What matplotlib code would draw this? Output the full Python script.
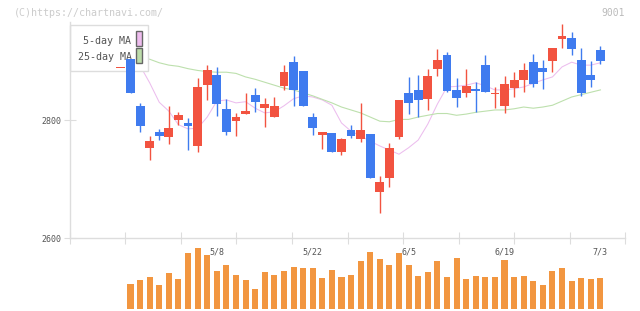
import matplotlib
matplotlib.use('Agg')
import matplotlib.pyplot as plt
import matplotlib.transforms as mtransforms
from matplotlib.patches import Rectangle
import numpy as np

# trading days (2024), first one only shows as a doji under the legend
dates = ['4/19', '4/22', '4/23', '4/24', '4/25', '4/26', '4/30', '5/1', '5/2', '5/7',
         '5/8', '5/9', '5/10', '5/13', '5/14', '5/15', '5/16', '5/17', '5/20', '5/21',
         '5/22', '5/23', '5/24', '5/27', '5/28', '5/29', '5/30', '5/31', '6/3', '6/4',
         '6/5', '6/6', '6/7', '6/10', '6/11', '6/12', '6/13', '6/14', '6/17', '6/18',
         '6/19', '6/20', '6/21', '6/24', '6/25', '6/26', '6/27', '6/28', '7/1', '7/2',
         '7/3']

opens = [2888, 2903, 2824, 2753, 2780, 2772, 2800, 2795, 2756, 2859, 2876,
         2819, 2799, 2811, 2842, 2820, 2805, 2858, 2898, 2883, 2805,
         2775, 2778, 2745, 2783, 2768, 2776, 2678, 2702, 2772, 2846,
         2851, 2836, 2887, 2910, 2851, 2846, 2852, 2893, 2844, 2824,
         2854, 2867, 2898, 2888, 2900, 2937, 2939, 2902, 2876, 2919]
highs = [2888, 2903, 2828, 2773, 2785, 2824, 2814, 2803, 2871, 2893, 2889,
         2836, 2812, 2846, 2854, 2837, 2839, 2893, 2908, 2883, 2812,
         2780, 2778, 2770, 2792, 2829, 2776, 2705, 2761, 2834, 2873,
         2876, 2886, 2920, 2915, 2871, 2886, 2864, 2910, 2856, 2875,
         2881, 2897, 2912, 2902, 2922, 2963, 2949, 2922, 2900, 2925]
lows = [2888, 2846, 2779, 2732, 2766, 2760, 2791, 2749, 2745, 2834, 2807,
        2775, 2773, 2811, 2814, 2788, 2805, 2851, 2824, 2824, 2775,
        2751, 2745, 2740, 2770, 2762, 2701, 2643, 2687, 2767, 2811,
        2805, 2817, 2875, 2848, 2822, 2839, 2814, 2848, 2820, 2812,
        2839, 2848, 2856, 2853, 2881, 2922, 2910, 2841, 2856, 2895]
closes = [2888, 2846, 2789, 2764, 2773, 2786, 2809, 2790, 2856, 2885, 2827,
          2779, 2805, 2815, 2831, 2827, 2824, 2881, 2851, 2824, 2787,
          2780, 2745, 2768, 2773, 2783, 2701, 2695, 2753, 2834, 2829,
          2834, 2875, 2902, 2849, 2837, 2858, 2849, 2848, 2846, 2861,
          2868, 2885, 2861, 2881, 2922, 2942, 2920, 2846, 2868, 2900]

ma5 = [np.nan, 2910, 2892, 2863, 2830, 2815, 2792, 2785, 2786, 2805, 2832,
       2834, 2829, 2831, 2820, 2812, 2814, 2824, 2836, 2841, 2839,
       2834, 2825, 2795, 2781, 2773, 2764, 2756, 2749, 2742, 2753,
       2766, 2793, 2827, 2856, 2857, 2859, 2863, 2858, 2851, 2851,
       2853, 2856, 2862, 2868, 2873, 2890, 2898, 2893, 2893, 2897]
ma25 = [np.nan, 2907, 2905, 2903, 2897, 2893, 2891, 2887, 2884, 2882, 2881,
        2881, 2879, 2873, 2869, 2864, 2859, 2854, 2851, 2846, 2841,
        2835, 2829, 2822, 2817, 2812, 2805, 2798, 2797, 2801, 2801,
        2805, 2808, 2811, 2811, 2808, 2810, 2813, 2815, 2817, 2817,
        2819, 2822, 2820, 2822, 2825, 2832, 2839, 2843, 2847, 2851]

# volume, thousand shares
volume = [np.nan, 1010, 1160, 1280, 960, 1440, 1200, 2240, 2440, 2160, 1520,
          1760, 1360, 1160, 800, 1480, 1360, 1520, 1680, 1640, 1640,
          1240, 1560, 1280, 1360, 1920, 2280, 2000, 1760, 2240, 1760,
          1320, 1480, 1920, 1280, 2040, 1200, 1320, 1280, 1280, 1960,
          1280, 1320, 1120, 960, 1520, 1640, 1120, 1240, 1200, 1240]

date_labels = ['5/8', '5/22', '6/5', '6/19', '7/3']

UP = '#f25340'
DOWN = '#3f7bef'
MONO = 'DejaVu Sans Mono'

W, H = 640, 311
fig = plt.figure(figsize=(W / 100, H / 100), dpi=100)
fig.patch.set_facecolor('white')

# axes boxes in pixel coords
ax = fig.add_axes([70 / W, 1 - 238 / H, 555 / W, 216 / H])
axv = fig.add_axes([70 / W, 1 - 309 / H, 555 / W, 65 / H])

pos = np.arange(len(dates))
o = np.array(opens, float)
c = np.array(closes, float)
cols = [UP if cc >= oo else DOWN for oo, cc in zip(o, c)]
body_lo = np.minimum(o, c)
body_h = np.maximum(np.abs(c - o), 2.0)

ax.plot(pos, ma5, color='#ecbdee', lw=0.75, zorder=2)
ax.plot(pos, ma25, color='#bde0ad', lw=0.8, zorder=2)
ax.vlines(pos, lows, highs, colors=cols, lw=1.0, zorder=3)
ax.bar(pos, body_h, bottom=body_lo, width=0.92, color=cols, linewidth=0, zorder=3)

xmin, xmax = 1 - 60.5 / 9.59, 1 + 494.5 / 9.59
ax.set_xlim(xmin, xmax)
ax.set_ylim(2600, 2600 + 216 * 200 / 118)
ax.set_yticks([2600, 2800])
ax.set_xticks(np.linspace(xmin, xmax, 11))
ax.tick_params(axis='x', direction='inout', length=9, color='#dddddd', labelbottom=False)
ax.tick_params(axis='y', direction='inout', length=9, color='#dddddd',
               labelsize=6, labelcolor='#555555', pad=1.5)
for lab in ax.get_yticklabels():
    lab.set_family(MONO)
for s in ['top', 'right']:
    ax.spines[s].set_visible(False)
for s in ['left', 'bottom']:
    ax.spines[s].set_color('#dddddd')
    ax.spines[s].set_linewidth(1)

# legend drawn by hand so the candles can sit on top of it
def apx(x, y):
    return ((x - 70) / 555, (238 - y) / 216)

ax.add_patch(Rectangle(apx(70, 71), 78.3 / 555, 46.5 / 216, transform=ax.transAxes,
                       facecolor='white', edgecolor='#dddddd', lw=1, zorder=2.5, clip_on=False))
ax.text(*apx(131, 40.5), '5-day MA', transform=ax.transAxes, ha='right', va='center',
        fontsize=7.2, family=MONO, color='#555555', zorder=2.6)
ax.text(*apx(131.5, 57), '25-day MA', transform=ax.transAxes, ha='right', va='center',
        fontsize=7.2, family=MONO, color='#555555', zorder=2.6)
ax.add_patch(Rectangle(apx(136, 46), 6.3 / 555, 15 / 216, transform=ax.transAxes,
                       facecolor='#eebcee', edgecolor='#666666', lw=1, zorder=2.6))
ax.add_patch(Rectangle(apx(136, 62.7), 6.3 / 555, 14.4 / 216, transform=ax.transAxes,
                       facecolor='#bcdcaa', edgecolor='#666666', lw=1, zorder=2.6))

# volume panel
axv.bar(pos, volume, width=0.63, color='#f29640', linewidth=0)
axv.set_xlim(xmin, xmax)
axv.set_ylim(0, 2600)
axv.axis('off')

trans = mtransforms.blended_transform_factory(axv.transData, axv.transAxes)
for i, d in enumerate(dates):
    if d in date_labels:
        axv.text(pos[i], (309 - 252) / 65, d, transform=trans, ha='center', va='center',
                 fontsize=6, family=MONO, color='#555555')

fig.text(14 / W, 1 - 12.5 / H, '(C)https://chartnavi.com/', fontsize=7.2, family=MONO,
         color='#cccccc', va='center', ha='left')
fig.text(625 / W, 1 - 12.5 / H, '9001', fontsize=7, family=MONO,
         color='#bbbbbb', va='center', ha='right')

fig.savefig('out.png', dpi=100)
